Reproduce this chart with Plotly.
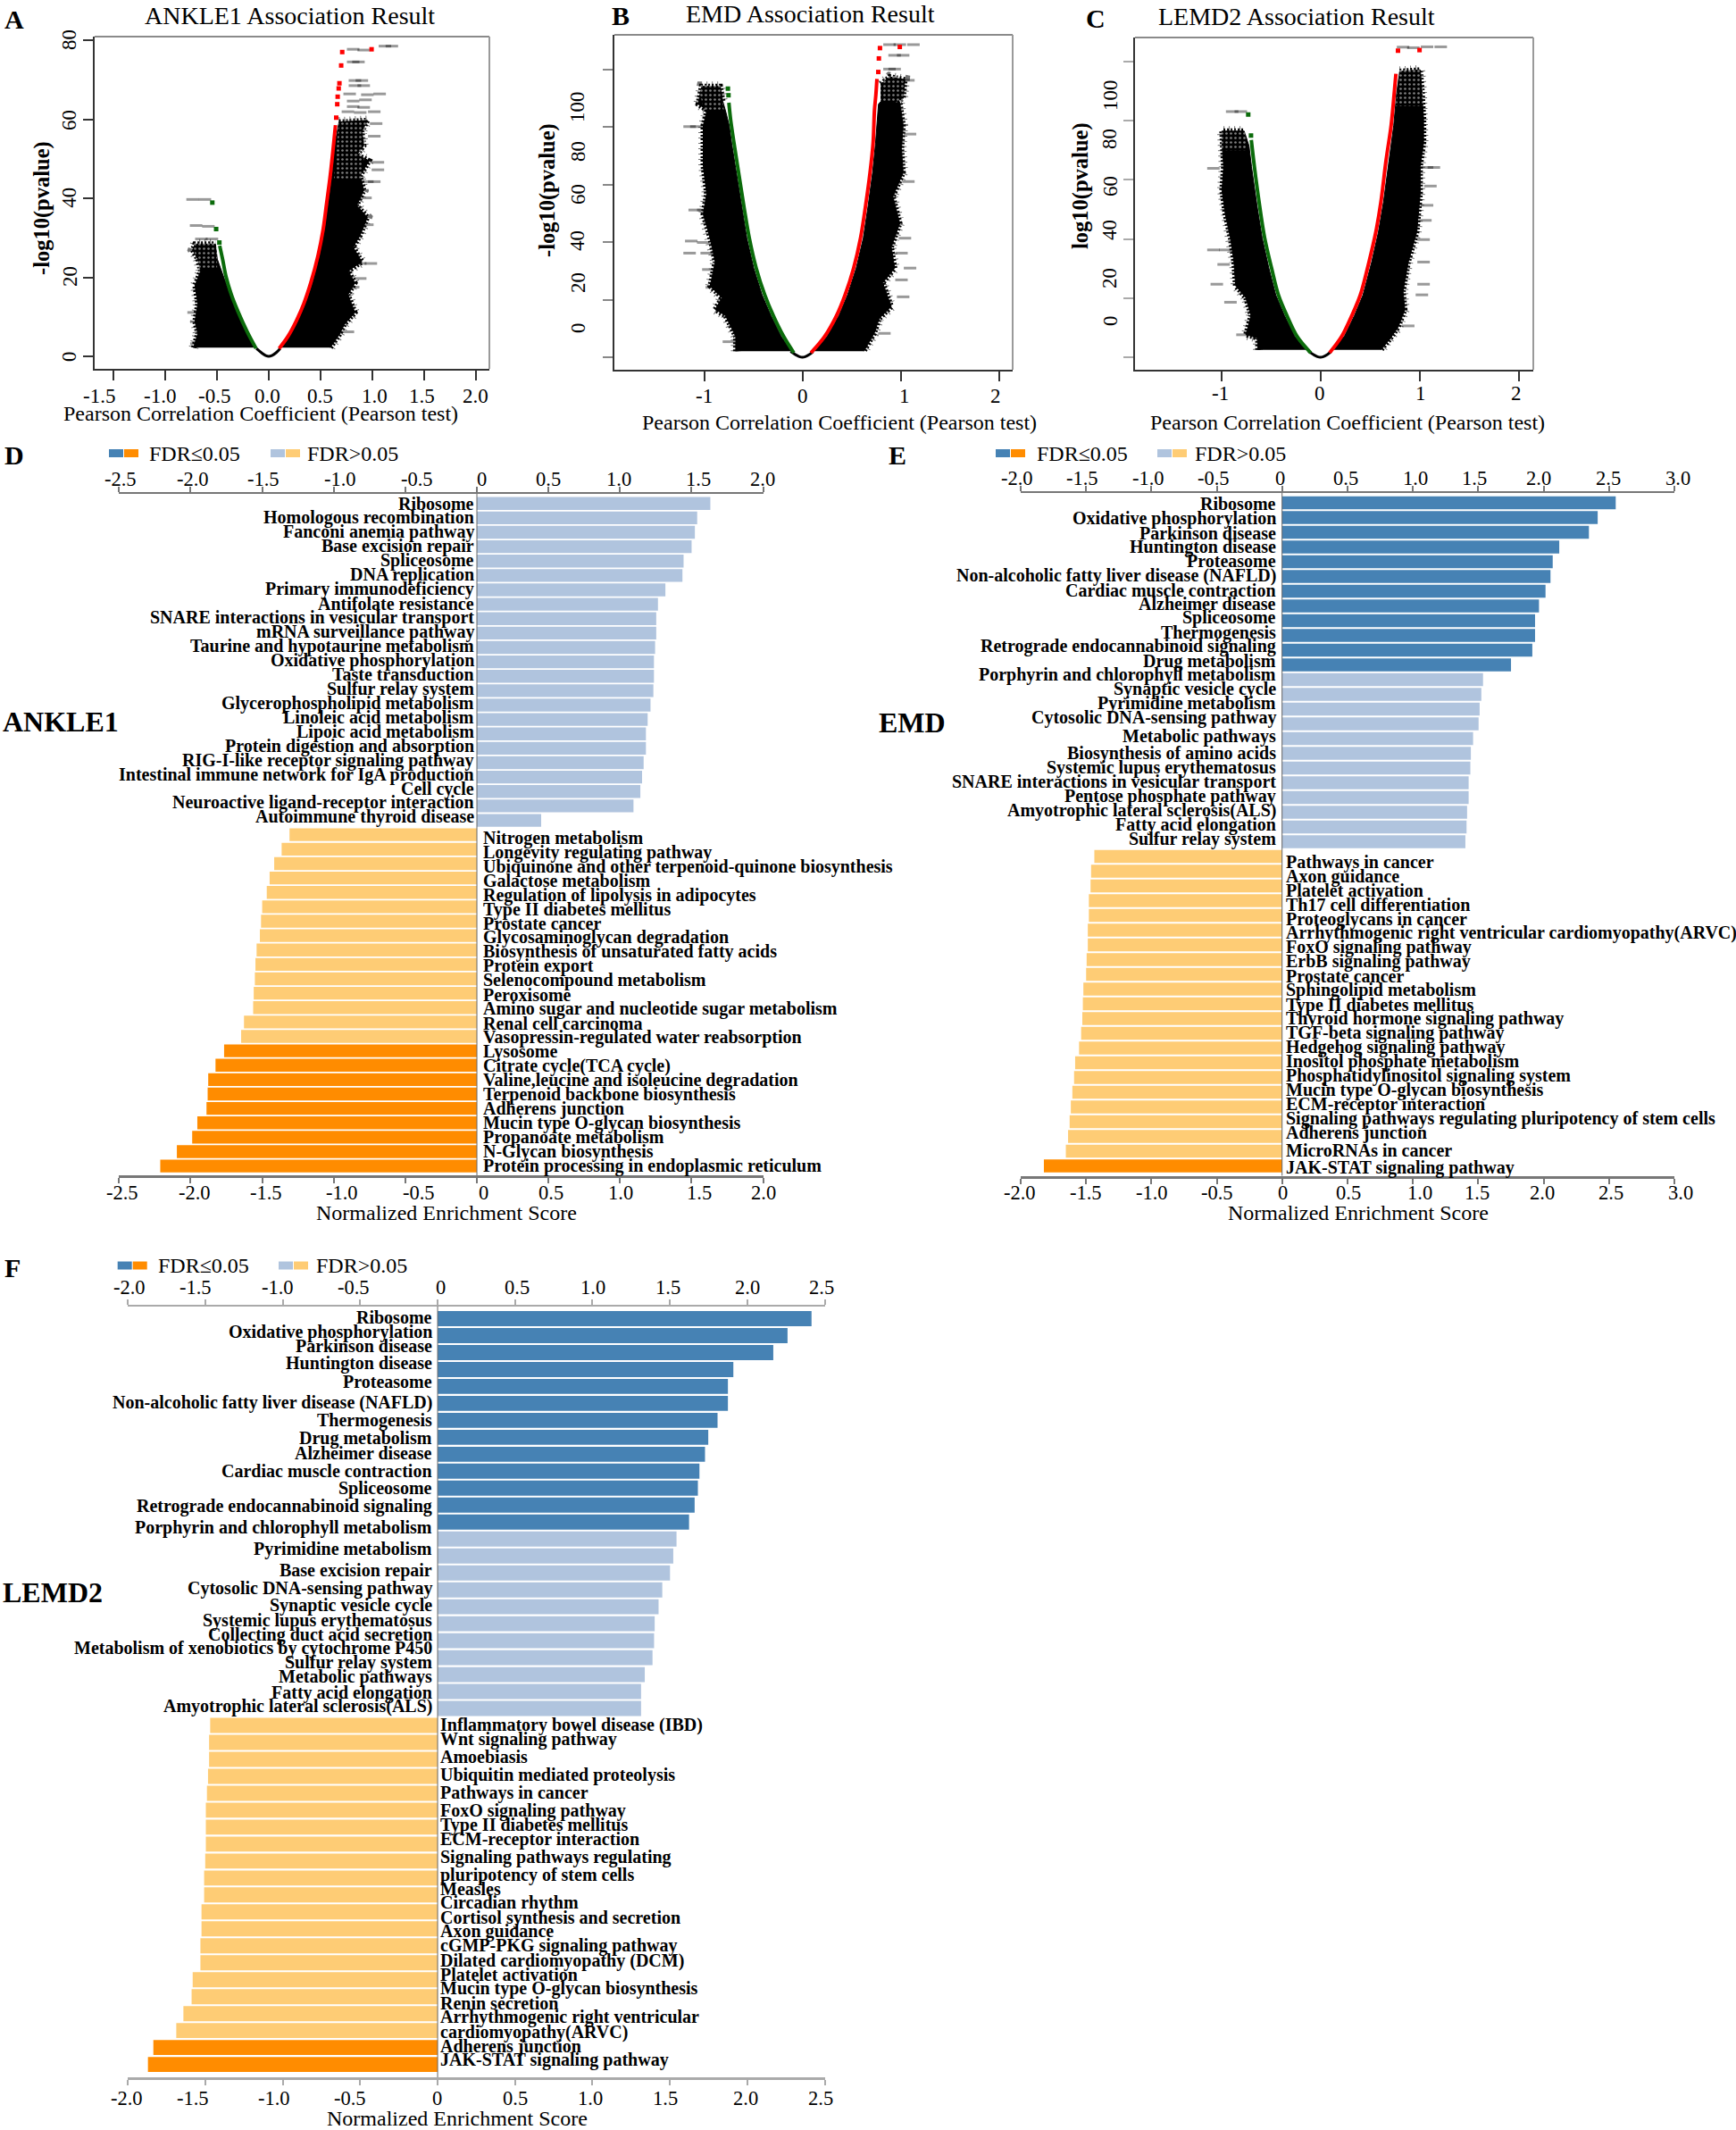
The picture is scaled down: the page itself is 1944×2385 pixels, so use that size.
import plotly.graph_objects as go

# ---------------------------- volcano data (correlation, -log10 p) ----------------------------
A_green_x = [-0.123, -0.208, -0.294, -0.362, -0.413, -0.447, -0.475]
A_green_y = [2.0, 6.2, 11.1, 15.6, 20.1, 24.6, 28.0]
A_green_out_x = [-0.478, -0.509, -0.546]
A_green_out_y = [28.8, 32.2, 38.9]
A_red_x = [0.10, 0.184, 0.27, 0.338, 0.406, 0.475, 0.526, 0.56, 0.594, 0.628, 0.645]
A_red_y = [2.0, 5.0, 9.2, 13.3, 18.6, 25.4, 32.2, 38.9, 45.7, 54.0, 58.5]
A_red_out_x = [0.652, 0.662, 0.666, 0.676, 0.683, 0.70, 0.71, 0.994]
A_red_out_y = [60.4, 63.8, 65.7, 67.8, 69.1, 73.6, 77.0, 77.7]
A_left_x = [-0.727, -0.686, -0.714, -0.686, -0.714, -0.659, -0.686, -0.737, -0.714, -0.516, -0.498, -0.464, -0.42, -0.375, -0.306, -0.222, -0.14]
A_left_y = [2.2, 5.8, 8.8, 13.3, 17.9, 21.6, 24.6, 26.9, 28.4, 28.4, 24.6, 22.0, 19.0, 15.6, 11.1, 6.2, 2.2]
A_right_x = [0.116, 0.198, 0.285, 0.353, 0.422, 0.49, 0.54, 0.575, 0.61, 0.642, 0.679, 0.953, 0.90, 0.918, 0.85, 0.97, 0.884, 0.918, 0.85, 0.953, 0.884, 0.816, 0.90, 0.765, 0.833, 0.765, 0.833, 0.731, 0.679, 0.594]
A_right_y = [2.2, 5.0, 9.2, 13.3, 18.6, 25.4, 32.2, 38.9, 45.7, 54.0, 59.3, 59.7, 56.9, 53.3, 51.0, 49.5, 45.7, 42.0, 38.2, 35.2, 30.7, 27.6, 23.9, 21.6, 18.6, 15.6, 11.1, 8.1, 5.4, 2.2]
A_scatter_x = [0.816, 0.918, 1.123, 1.19, 0.816, 0.867, 0.833, 0.90, 0.833, 0.918, 0.782, 0.953, 1.072, 0.816, 0.935, 0.816, 0.918, 0.765, 0.884, 1.02, 1.038, 1.02, 1.055, 1.055, 1.02, 0.953, 0.935, 0.953, 0.987, 0.884, 0.884, 0.816, 0.765, -0.737, -0.618, -0.703, -0.584, -0.652, -0.55, -0.727, -0.70]
A_scatter_y = [77.7, 77.5, 78.5, 78.5, 74.5, 74.5, 69.8, 69.8, 68.5, 68.5, 66.4, 66.2, 66.4, 64.6, 64.9, 63.2, 63.0, 61.9, 61.7, 61.9, 58.9, 55.7, 49.1, 47.2, 44.2, 44.2, 40.1, 33.3, 23.5, 23.5, 19.7, 17.5, 6.2, 39.7, 39.7, 33.1, 32.9, 29.7, 29.7, 11.1, 3.2]
A_sparse_x = [-0.74, -0.5, -0.5, -0.68, None, 0.68, 0.96, 0.9, 0.63]
A_sparse_y = [29.0, 29.0, 22.0, 22.0, None, 60.0, 60.0, 45.0, 45.0]

B_green_x = [-0.087, -0.19, -0.296, -0.383, -0.47, -0.54, -0.592, -0.644, -0.696, -0.731, -0.748]
B_green_y = [1.55, 7.2, 14.5, 21.7, 31.0, 41.4, 51.8, 63.1, 74.5, 82.8, 88.5]
B_green_out_x = [-0.752, -0.758]
B_green_out_y = [91.1, 93.4]
B_red_x = [0.087, 0.226, 0.348, 0.435, 0.522, 0.592, 0.644, 0.689, 0.72, 0.734, 0.748, 0.759]
B_red_y = [1.55, 7.2, 14.5, 21.7, 31.0, 41.4, 52.8, 64.2, 74.5, 85.9, 91.1, 96.8]
B_red_out_x = [0.773, 0.779, 0.79, 0.992]
B_red_out_y = [99.2, 103.9, 107.5, 107.9]
B_left_x = [-0.678, -0.678, -0.783, -0.887, -0.818, -0.939, -0.887, -0.939, -1.009, -0.974, -1.009, -1.009, -1.009, -0.974, -0.957, -1.061, -1.026, -0.835, -0.81, -0.78, -0.745, -0.72, -0.667, -0.615, -0.565, -0.495, -0.41, -0.32, -0.215, -0.11]
B_left_y = [2.07, 7.2, 14.5, 16.6, 20.7, 24.8, 33.1, 41.4, 49.7, 56.9, 66.3, 74.5, 80.7, 85.4, 85.7, 88.0, 94.2, 94.2, 89.0, 85.4, 80.7, 74.5, 63.1, 51.8, 41.4, 31.0, 21.7, 14.5, 7.2, 2.07]
B_right_x = [0.105, 0.25, 0.372, 0.46, 0.548, 0.62, 0.67, 0.715, 0.745, 0.775, 0.80, 0.80, 0.887, 1.044, 1.026, 0.922, 0.992, 1.026, 1.009, 1.026, 0.922, 0.992, 0.905, 0.94, 0.818, 0.905, 0.783, 0.731, 0.626]
B_right_y = [2.07, 7.2, 14.5, 21.7, 31.0, 41.4, 52.8, 64.2, 74.5, 88.0, 89.0, 95.0, 97.5, 96.5, 90.0, 88.5, 88.5, 80.7, 72.5, 64.2, 55.9, 46.6, 38.3, 31.0, 25.9, 17.6, 13.5, 8.3, 2.07]
B_scatter_x = [0.887, 0.992, 1.131, 0.939, 1.026, 0.887, 0.939, 1.079, -1.148, -1.079, -1.096, -1.009, -1.131, -1.009, -1.148, -0.974, -0.957, -0.922, 1.096, 1.079, 1.044, 1.009, 1.096, 1.009, 1.026, 0.835, -0.748]
B_scatter_y = [108.7, 108.7, 108.7, 105.0, 105.0, 100.2, 100.2, 96.3, 80.2, 80.2, 51.2, 51.2, 40.4, 39.9, 36.2, 36.2, 30.5, 24.3, 77.6, 61.1, 41.4, 36.2, 31.0, 26.9, 21.0, 8.3, 5.4]
B_sparse_x = [-1.07, -0.83, -0.8, -1.0, None, 0.8, 1.05, 1.03, 0.78]
B_sparse_y = [95.0, 95.0, 86.0, 86.0, None, 98.0, 98.0, 89.0, 89.0]

C_green_x = [-0.097, -0.234, -0.338, -0.424, -0.493, -0.562, -0.614, -0.666, -0.697]
C_green_y = [1.5, 7.0, 14.1, 21.1, 30.2, 40.3, 51.4, 64.5, 73.5]
C_green_out_x = [-0.70, -0.728]
C_green_out_y = [75.0, 82.1]
C_red_x = [0.093, 0.214, 0.317, 0.403, 0.49, 0.559, 0.61, 0.662, 0.714, 0.748, 0.762]
C_red_y = [1.5, 7.0, 14.1, 21.1, 32.2, 42.3, 52.4, 66.5, 78.5, 90.6, 95.9]
C_red_out_x = [0.783, 1.0]
C_red_out_y = [103.7, 103.9]
C_left_x = [-0.631, -0.631, -0.752, -0.70, -0.752, -0.855, -0.872, -0.907, -0.959, -0.993, -0.976, -0.993, -0.993, -0.769, -0.72, -0.695, -0.64, -0.587, -0.52, -0.45, -0.362, -0.258, -0.12]
C_left_y = [2.5, 6.5, 7.6, 14.1, 20.1, 24.2, 32.2, 40.3, 48.3, 56.4, 64.5, 72.5, 76.5, 76.5, 71.5, 64.5, 51.4, 40.3, 30.2, 21.1, 14.1, 7.0, 2.5]
C_right_x = [0.11, 0.24, 0.343, 0.43, 0.517, 0.585, 0.636, 0.69, 0.74, 0.77, 0.80, 1.007, 1.024, 1.041, 1.041, 1.007, 1.007, 0.972, 0.886, 0.834, 0.852, 0.783, 0.697, 0.61]
C_right_y = [2.5, 7.0, 14.1, 21.1, 32.2, 42.3, 52.4, 66.5, 78.5, 89.6, 96.7, 97.2, 90.6, 80.6, 72.5, 64.5, 55.4, 42.3, 32.2, 22.2, 16.1, 10.1, 6.0, 2.5]
C_scatter_x = [0.834, 0.938, 1.076, 1.214, -0.89, -0.803, -1.079, 1.076, 1.145, 1.11, 1.076, 1.059, 1.041, 1.041, 1.041, 1.024, 0.886, -1.079, -0.959, -0.976, -1.045, -0.907, -0.786]
C_scatter_y = [104.9, 104.7, 105.0, 105.0, 83.1, 83.1, 63.9, 64.2, 64.2, 57.9, 51.4, 46.3, 39.8, 32.2, 24.7, 21.1, 10.6, 36.3, 36.3, 31.4, 24.7, 18.6, 7.6]
C_sparse_x = [-1.0, -0.76, -0.74, -1.0, None, 0.8, 1.03, 1.04, 0.76]
C_sparse_y = [77.0, 77.0, 70.0, 70.0, None, 98.0, 98.0, 85.0, 85.0]
arc_x = [-0.12, -0.07, -0.03, 0.0, 0.03, 0.07, 0.11]
arc_y = [2.0, 0.9, 0.2, 0.0, 0.2, 0.9, 2.0]

# ---------------------------- enrichment data ----------------------------
D_pos_names = ["Ribosome", "Homologous recombination", "Fanconi anemia pathway", "Base excision repair", "Spliceosome", "DNA replication", "Primary immunodeficiency", "Antifolate resistance", "SNARE interactions in vesicular transport", "mRNA surveillance pathway", "Taurine and hypotaurine metabolism", "Oxidative phosphorylation", "Taste transduction", "Sulfur relay system", "Glycerophospholipid metabolism", "Linoleic acid metabolism", "Lipoic acid metabolism", "Protein digestion and absorption", "RIG-I-like receptor signaling pathway", "Intestinal immune network for IgA production", "Cell cycle", "Neuroactive ligand-receptor interaction", "Autoimmune thyroid disease"]
D_pos_values = [1.631, 1.539, 1.523, 1.50, 1.444, 1.436, 1.317, 1.265, 1.253, 1.253, 1.245, 1.237, 1.237, 1.233, 1.213, 1.193, 1.181, 1.181, 1.165, 1.154, 1.142, 1.094, 0.449]
D_pos_sig = 0
D_neg_names = ["Nitrogen metabolism", "Longevity regulating pathway", "Ubiquinone and other terpenoid-quinone biosynthesis", "Galactose metabolism", "Regulation of lipolysis in adipocytes", "Type II diabetes mellitus", "Prostate cancer", "Glycosaminoglycan degradation", "Biosynthesis of unsaturated fatty acids", "Protein export", "Selenocompound metabolism", "Peroxisome", "Amino sugar and nucleotide sugar metabolism", "Renal cell carcinoma", "Vasopressin-regulated water reabsorption", "Lysosome", "Citrate cycle(TCA cycle)", "Valine,leucine and isoleucine degradation", "Terpenoid backbone biosynthesis", "Adherens junction", "Mucin type O-glycan biosynthesis", "Propanoate metabolism", "N-Glycan biosynthesis", "Protein processing in endoplasmic reticulum"]
D_neg_values = [-1.309, -1.364, -1.416, -1.448, -1.468, -1.50, -1.508, -1.516, -1.539, -1.547, -1.551, -1.559, -1.563, -1.627, -1.647, -1.766, -1.826, -1.877, -1.881, -1.889, -1.953, -1.989, -2.096, -2.212]
D_neg_sig = 9

E_pos_names = ["Ribosome", "Oxidative phosphorylation", "Parkinson disease", "Huntington disease", "Proteasome", "Non-alcoholic fatty liver disease (NAFLD)", "Cardiac muscle contraction", "Alzheimer disease", "Spliceosome", "Thermogenesis", "Retrograde endocannabinoid signaling", "Drug metabolism", "Porphyrin and chlorophyll metabolism", "Synaptic vesicle cycle", "Pyrimidine metabolism", "Cytosolic DNA-sensing pathway", "Metabolic pathways", "Biosynthesis of amino acids", "Systemic lupus erythematosus", "SNARE interactions in vesicular transport", "Pentose phosphate pathway", "Amyotrophic lateral sclerosis(ALS)", "Fatty acid elongation", "Sulfur relay system"]
E_pos_values = [2.552, 2.414, 2.347, 2.12, 2.07, 2.053, 2.015, 1.965, 1.935, 1.935, 1.914, 1.751, 1.537, 1.524, 1.511, 1.503, 1.461, 1.444, 1.44, 1.427, 1.427, 1.415, 1.411, 1.402]
E_pos_sig = 12
E_neg_names = ["Pathways in cancer", "Axon guidance", "Platelet activation", "Th17 cell differentiation", "Proteoglycans in cancer", "Arrhythmogenic right ventricular cardiomyopathy(ARVC)", "FoxO signaling pathway", "ErbB signaling pathway", "Prostate cancer", "Sphingolipid metabolism", "Type II diabetes mellitus", "Thyroid hormone signaling pathway", "TGF-beta signaling pathway", "Hedgehog signaling pathway", "Inositol phosphate metabolism", "Phosphatidylinositol signaling system", "Mucin type O-glycan biosynthesis", "ECM-receptor interaction", "Signaling pathways regulating pluripotency of stem cells", "Adherens junction", "MicroRNAs in cancer", "JAK-STAT signaling pathway"]
E_neg_values = [-1.436, -1.461, -1.465, -1.478, -1.478, -1.486, -1.486, -1.495, -1.499, -1.52, -1.524, -1.528, -1.537, -1.553, -1.583, -1.591, -1.604, -1.616, -1.625, -1.637, -1.654, -1.822]
E_neg_sig = 1

F_pos_names = ["Ribosome", "Oxidative phosphorylation", "Parkinson disease", "Huntington disease", "Proteasome", "Non-alcoholic fatty liver disease (NAFLD)", "Thermogenesis", "Drug metabolism", "Alzheimer disease", "Cardiac muscle contraction", "Spliceosome", "Retrograde endocannabinoid signaling", "Porphyrin and chlorophyll metabolism", "Pyrimidine metabolism", "Base excision repair", "Cytosolic DNA-sensing pathway", "Synaptic vesicle cycle", "Systemic lupus erythematosus", "Collecting duct acid secretion", "Metabolism of xenobiotics by cytochrome P450", "Sulfur relay system", "Metabolic pathways", "Fatty acid elongation", "Amyotrophic lateral sclerosis(ALS)"]
F_pos_values = [2.415, 2.26, 2.168, 1.91, 1.875, 1.875, 1.808, 1.748, 1.727, 1.691, 1.681, 1.66, 1.624, 1.543, 1.522, 1.501, 1.451, 1.427, 1.402, 1.398, 1.388, 1.338, 1.314, 1.314]
F_pos_sig = 13
F_neg_values = [-1.469, -1.476, -1.476, -1.483, -1.49, -1.497, -1.497, -1.497, -1.501, -1.508, -1.508, -1.525, -1.525, -1.532, -1.532, -1.582, -1.589, -1.642, -1.688, -1.836, -1.871]
F_neg_sig = 2
F_neg_text = ["Inflammatory bowel disease (IBD)", "Wnt signaling pathway", "Amoebiasis", "Ubiquitin mediated proteolysis", "Pathways in cancer", "FoxO signaling pathway", "Type II diabetes mellitus", "ECM-receptor interaction", "Signaling pathways regulating", "pluripotency of stem cells", "Measles", "Circadian rhythm", "Cortisol synthesis and secretion", "Axon guidance", "cGMP-PKG signaling pathway", "Dilated cardiomyopathy (DCM)", "Platelet activation", "Mucin type O-glycan biosynthesis", "Renin secretion", "Arrhythmogenic right ventricular", "cardiomyopathy(ARVC)", "Adherens junction", "JAK-STAT signaling pathway"]

# ---------------------------- tick text ----------------------------
A_xticks = [-1.5, -1.0, -0.5, 0.0, 0.5, 1.0, 1.5, 2.0]
A_xtext = ["-1.5", "-1.0", "-0.5", "0.0", "0.5", "1.0", "1.5", "2.0"]
BC_xticks = [-1, 0, 1, 2]
BC_xtext = ["-1", "0", "1", "2"]
A_yticks = [0, 20, 40, 60, 80]
BC_yticks = [0, 20, 40, 60, 80, 100]
D_ticks = [-2.5, -2.0, -1.5, -1.0, -0.5, 0, 0.5, 1.0, 1.5, 2.0]
D_text = ["-2.5", "-2.0", "-1.5", "-1.0", "-0.5", "0", "0.5", "1.0", "1.5", "2.0"]
E_ticks = [-2.0, -1.5, -1.0, -0.5, 0, 0.5, 1.0, 1.5, 2.0, 2.5, 3.0]
E_text = ["-2.0", "-1.5", "-1.0", "-0.5", "0", "0.5", "1.0", "1.5", "2.0", "2.5", "3.0"]
F_ticks = [-2.0, -1.5, -1.0, -0.5, 0, 0.5, 1.0, 1.5, 2.0, 2.5]
F_text = ["-2.0", "-1.5", "-1.0", "-0.5", "0", "0.5", "1.0", "1.5", "2.0", "2.5"]

# ---------------------------- page layout ----------------------------
W, H = 1944, 2385
SERIF = "Liberation Serif"
DARK_BLUE, LIGHT_BLUE, DARK_ORANGE, LIGHT_ORANGE = "#4682B4", "#B0C4DE", "#FF8C00", "#FECC75"

def fx(px):
    return px / W

def fy(py):
    return 1 - py / H

fig = go.Figure()
annotations, shapes, layout_axes = [], [], {}

def label(text, x, y, size, bold=False, anchor="center", angle=0):
    annotations.append(dict(text=text, x=fx(x), y=fy(y), xref="paper", yref="paper", showarrow=False,
                            xanchor=anchor, yanchor="middle", textangle=angle, borderpad=0,
                            font=dict(family=SERIF, size=size, color="#000", weight=700 if bold else 400)))

def line(x0, y0, x1, y1, color, width):
    shapes.append(dict(type="line", xref="paper", yref="paper", x0=fx(x0), y0=fy(y0), x1=fx(x1), y1=fy(y1),
                       line=dict(color=color, width=width)))

def rect(x0, y0, x1, y1, color):
    shapes.append(dict(type="rect", xref="paper", yref="paper", x0=fx(x0), y0=fy(y0), x1=fx(x1), y1=fy(y1),
                       fillcolor=color, line=dict(width=0)))

# ---------------------------- volcano panels ----------------------------
def volcano(n, box, x0_px, x_scale, y0_px, y_scale, xticks, yticks, left, right, left_outer, right_outer, sparse, red, red_out, green, green_out, spots, tickcolor):
    L, T, R, B = box
    xa, ya = f"x{n}", f"y{n}"
    layout_axes[f"xaxis{n}"] = dict(domain=[fx(L), fx(R)], range=[(L - x0_px) / x_scale, (R - x0_px) / x_scale], anchor=ya,
                                    tickvals=xticks, showticklabels=False, ticks="outside", ticklen=11, tickwidth=1.5,
                                    tickcolor="#333", showline=True, linecolor="#333", linewidth=2, showgrid=False, zeroline=False)
    layout_axes[f"yaxis{n}"] = dict(domain=[fy(B), fy(T)], range=[(y0_px - B) / y_scale, (y0_px - T) / y_scale], anchor=xa,
                                    tickvals=yticks, showticklabels=False, ticks="outside", ticklen=11, tickwidth=1.5,
                                    tickcolor=tickcolor, showline=True, linecolor="#333", linewidth=2, showgrid=False, zeroline=False)
    line(L, T, R, T, "#8a8a8a", 2)
    line(R, T, R, B, "#9a9a9a", 2)
    common = dict(xaxis=xa, yaxis=ya, showlegend=False, hoverinfo="skip")
    for lobe in (left, right):
        fig.add_trace(go.Scatter(x=lobe[0], y=lobe[1], mode="lines", fill="toself", fillcolor="#000",
                                 line=dict(color="#000", width=1), **common))
    for edge in (left_outer, right_outer):
        fig.add_trace(go.Scatter(x=edge[0], y=edge[1], mode="lines", line=dict(color="#000", width=6, dash="2px,2px"), **common))
        fig.add_trace(go.Scatter(x=edge[0], y=edge[1], mode="lines", line=dict(color="rgba(0,0,0,0.55)", width=11, dash="1px,5px"), **common))
    fig.add_trace(go.Scatter(x=sparse[0], y=sparse[1], mode="none", fill="toself", fillcolor="rgba(0,0,0,0)",
                             fillpattern=dict(shape=".", fgcolor="#fff", bgcolor="rgba(0,0,0,0)", size=5, solidity=0.22), **common))
    fig.add_trace(go.Scatter(x=spots[0], y=spots[1], mode="markers",
                             marker=dict(symbol="line-ew", size=10, line=dict(color="rgba(0,0,0,0.4)", width=3)), **common))
    fig.add_trace(go.Scatter(x=arc_x, y=arc_y, mode="lines", line=dict(color="#000", width=3, shape="spline"), **common))
    for curve, out, color in ((green, green_out, "#0B6B0B"), (red, red_out, "#FF0000")):
        fig.add_trace(go.Scatter(x=curve[0], y=curve[1], mode="lines", line=dict(color=color, width=4, shape="spline"), **common))
        fig.add_trace(go.Scatter(x=out[0], y=out[1], mode="markers", marker=dict(color=color, size=5, symbol="square"), **common))

volcano(1, (106, 41, 548, 413), 301, 115.8, 399, 4.425, A_xticks, A_yticks,
        (A_left_x, A_left_y), (A_right_x, A_right_y), (A_left_x[:10], A_left_y[:10]), (A_right_x[10:], A_right_y[10:]), (A_sparse_x, A_sparse_y),
        (A_red_x, A_red_y), (A_red_out_x, A_red_out_y),
        (A_green_x, A_green_y), (A_green_out_x, A_green_out_y), (A_scatter_x, A_scatter_y), "#333")
volcano(2, (688, 39, 1134, 414), 898.5, 110, 400, 3.22, BC_xticks, BC_yticks,
        (B_left_x, B_left_y), (B_right_x, B_right_y), (B_left_x[:19], B_left_y[:19]), (B_right_x[11:], B_right_y[11:]), (B_sparse_x, B_sparse_y),
        (B_red_x, B_red_y), (B_red_out_x, B_red_out_y),
        (B_green_x, B_green_y), (B_green_out_x, B_green_out_y), (B_scatter_x, B_scatter_y), "#888")
volcano(3, (1271, 42, 1717, 414), 1478.6, 111, 400, 3.31, BC_xticks, BC_yticks,
        (C_left_x, C_left_y), (C_right_x, C_right_y), (C_left_x[:14], C_left_y[:14]), (C_right_x[10:], C_right_y[10:]), (C_sparse_x, C_sparse_y),
        (C_red_x, C_red_y), (C_red_out_x, C_red_out_y),
        (C_green_x, C_green_y), (C_green_out_x, C_green_out_y), (C_scatter_x, C_scatter_y), "#aaa")

for text, x, y in (("ANKLE1 Association Result", 324, 18), ("EMD Association Result", 907.5, 16), ("LEMD2 Association Result", 1452, 19)):
    label(text, x, y, 28)
for text, x, y in (("A", 16, 22), ("B", 695, 17), ("C", 1227, 20), ("D", 16, 510), ("E", 1005, 510), ("F", 14, 1419)):
    label(text, x, y, 30, bold=True)
for x, y in ((292, 463), (940, 473), (1508.6, 473)):
    label("Pearson Correlation Coefficient (Pearson test)", x, y, 24)
label("-log10(pvalue)", 47, 233, 24.5, bold=True, angle=-90)
label("-log10(pvalue)", 613, 213, 24.5, bold=True, angle=-90)
label("log10(pvalue)", 1210, 208, 24.5, bold=True, angle=-90)

for text, x in zip(A_xtext, (110.7, 178.7, 240, 299, 358.6, 419, 472.5, 532)):
    label(text, x, 443, 23)
for text, x in zip(BC_xtext, (788, 899, 1013, 1115)):
    label(text, x, 443, 23)
for text, x in zip(BC_xtext, (1366, 1478, 1591, 1698)):
    label(text, x, 441, 23)
for value, y in zip(A_yticks, (399, 310, 221.7, 135, 45)):
    label(str(value), 78, y, 23, angle=-90)
for value, y in zip(BC_yticks, (367, 317, 270, 218, 170, 120)):
    label(str(value), 647, y, 23, angle=-90)
for value, y in zip(BC_yticks, (359, 312, 258, 209, 156, 107)):
    label(str(value), 1243, y, 23, angle=-90)

# ---------------------------- enrichment panels ----------------------------
def enrichment(n, x_left, x_right, ticks, top_y, bottom_y, first_row, pitch, pos, pos_sig, neg, neg_sig, axis_color):
    xb, xt, ya = f"x{n}", f"x{n + 1}", f"y{n}"
    common = dict(showticklabels=False, tickvals=ticks, showgrid=False, zeroline=False, showline=True,
                  linecolor=axis_color, tickcolor=axis_color, tickwidth=1.5, ticks="outside", ticklen=6,
                  range=[ticks[0], ticks[-1]], domain=[fx(x_left), fx(x_right)])
    layout_axes[f"xaxis{n}"] = dict(anchor=ya, side="bottom", linewidth=3, **common)
    layout_axes[f"xaxis{n + 1}"] = dict(anchor=ya, side="top", overlaying=xb, linewidth=2, **common)
    layout_axes[f"yaxis{n}"] = dict(domain=[fy(bottom_y), fy(top_y)], anchor=xb, visible=False,
                                    range=[(bottom_y - first_row) / pitch, (top_y - first_row) / pitch])
    rows_pos = list(range(len(pos)))
    rows_neg = list(range(len(pos), len(pos) + len(neg)))
    pos_colors = [DARK_BLUE] * pos_sig + [LIGHT_BLUE] * (len(pos) - pos_sig)
    neg_colors = [LIGHT_ORANGE] * (len(neg) - neg_sig) + [DARK_ORANGE] * neg_sig
    shared = dict(orientation="h", width=0.89, showlegend=False, hoverinfo="skip")
    fig.add_trace(go.Bar(x=pos, y=rows_pos, marker=dict(color=pos_colors, line=dict(width=0)), xaxis=xt, yaxis=ya, **shared))
    fig.add_trace(go.Bar(x=neg, y=rows_neg, marker=dict(color=neg_colors, line=dict(width=0)), xaxis=xb, yaxis=ya, **shared))
    zero_px = x_left + (0 - ticks[0]) / (ticks[-1] - ticks[0]) * (x_right - x_left)
    line(zero_px, top_y, zero_px, bottom_y, "#666", 1)

def legend(y, s1, t1, s2, t2):
    rect(s1, y - 4.5, s1 + 16, y + 4.5, DARK_BLUE)
    rect(s1 + 17, y - 4.5, s1 + 33, y + 4.5, DARK_ORANGE)
    rect(s2, y - 4.5, s2 + 16, y + 4.5, LIGHT_BLUE)
    rect(s2 + 17, y - 4.5, s2 + 33, y + 4.5, LIGHT_ORANGE)
    label("FDR≤0.05", t1, y, 24, anchor="left")
    label("FDR>0.05", t2, y, 24, anchor="left")

BAR_LABEL = 20
TICK_LABEL = 22.5
AXIS_TITLE = 24

# panel D
enrichment(4, 133.3, 854.6, D_ticks, 553, 1316, 563.7, 16.13, D_pos_values, D_pos_sig, D_neg_values, D_neg_sig, "#777")
for i, name in enumerate(D_pos_names):
    label(name, 532, 564 + i * 15.95, BAR_LABEL, bold=True, anchor="right")
for i, name in enumerate(D_neg_names):
    label(name, 540, 938.3 + i * 15.95, BAR_LABEL, bold=True, anchor="left")
for t, x in zip(D_text, (135, 215.6, 295.3, 381.4, 466.8, 539.5, 614.2, 693.2, 781.9, 854)):
    label(t, x, 536.7, TICK_LABEL)
for t, x in zip(D_text, (137, 218, 298, 382.7, 468.8, 541.5, 616.7, 695.2, 783.2, 855.2)):
    label(t, x, 1335, TICK_LABEL)
label("Normalized Enrichment Score", 499.7, 1358, AXIS_TITLE)
label("ANKLE1", 2, 808, 32, bold=True, anchor="left")
legend(507.5, 122, 166, 303, 343)

# panel E
enrichment(6, 1142.9, 1874.9, E_ticks, 552, 1316.5, 563, 16.5, E_pos_values, E_pos_sig, E_neg_values, E_neg_sig, "#777")
E_pos_y = [490 + z / 3 for z in (222, 270, 320, 368, 415, 462, 512, 558, 606, 655, 700, 750, 798, 845, 893, 942, 1003, 1060, 1108, 1157, 1204, 1253, 1300, 1348)]
E_neg_y = [930 + z / 3 for z in (105, 155, 200, 248, 297, 343, 392, 440, 488, 536, 585, 632, 680, 728, 775, 823, 872, 918, 967, 1015, 1073, 1133)]
for name, y in zip(E_pos_names, E_pos_y):
    label(name, 1430, y, BAR_LABEL, bold=True, anchor="right")
for name, y in zip(E_neg_names, E_neg_y):
    label(name, 1438.5, y, BAR_LABEL, bold=True, anchor="left")
for t, x in zip(E_text, (1138.6, 1211.7, 1286, 1359.2, 1433, 1507.4, 1585.4, 1651.2, 1722.5, 1800.5, 1878.6)):
    label(t, x, 535, TICK_LABEL)
for t, x in zip(E_text, (1141.6, 1216, 1289.8, 1362.9, 1436, 1510.4, 1589.7, 1654.2, 1726.8, 1803.6, 1882.3)):
    label(t, x, 1336, TICK_LABEL)
label("Normalized Enrichment Score", 1520.9, 1358, AXIS_TITLE)
label("EMD", 983, 809, 32, bold=True, anchor="left")
legend(507.5, 1115, 1159.5, 1296, 1336.5)

# panel F
enrichment(8, 143.3, 923.5, F_ticks, 1462.7, 2326, 1476.5, 18.98, F_pos_values, F_pos_sig, F_neg_values, F_neg_sig, "#aaa")
F_pos_y = [1390 + z / 3 for z in (255, 305, 350, 410, 470, 542, 602, 662, 710, 770, 830, 890, 962, 1033, 1105, 1165, 1223, 1272, 1320, 1365, 1415, 1463)] + [1890 + z / 3 for z in (15, 60)]
F_neg_y = [1890 + z / 3 for z in (125, 172, 232, 292, 352, 412, 460, 507, 568, 628, 675, 722, 772, 818, 865, 915, 962, 1010, 1058, 1105, 1155, 1203, 1250)]
for name, y in zip(F_pos_names, F_pos_y):
    label(name, 485, y, BAR_LABEL, bold=True, anchor="right")
for name, y in zip(F_neg_text, F_neg_y):
    label(name, 491.5, y, BAR_LABEL, bold=True, anchor="left")
for t, x in zip(F_text, (145, 218.6, 310.5, 396.2, 493, 579.3, 664.4, 748.3, 837, 920.4)):
    label(t, x, 1441.7, TICK_LABEL)
for t, x in zip(F_text, (142, 215.6, 307.4, 391.9, 489.9, 576.8, 661.4, 745.2, 834.7, 918.6)):
    label(t, x, 2349, TICK_LABEL)
label("Normalized Enrichment Score", 512, 2372, AXIS_TITLE)
label("LEMD2", 2, 1783, 32, bold=True, anchor="left")
legend(1417, 131.7, 175.8, 312, 353.3)

fig.update_layout(width=W, height=H, autosize=False, margin=dict(l=0, r=0, t=0, b=0), paper_bgcolor="#fff", plot_bgcolor="#fff",
                  barmode="overlay", annotations=annotations, shapes=shapes, font=dict(family=SERIF), **layout_axes)
fig.write_html("out.html", config={"displayModeBar": False}, post_script="document.body.style.margin='0';")
